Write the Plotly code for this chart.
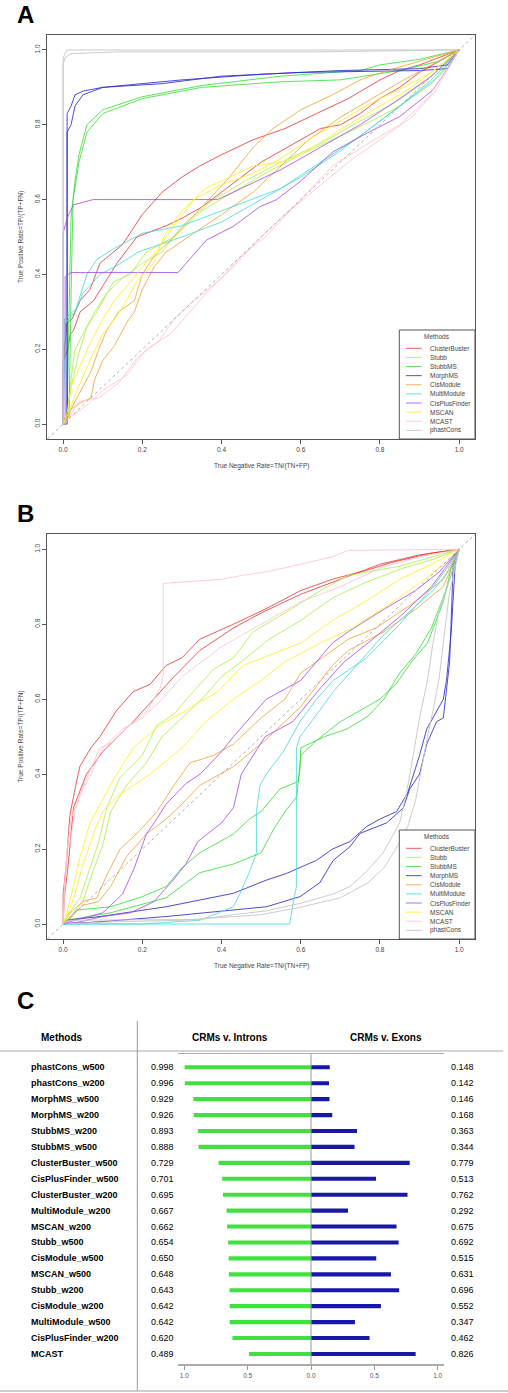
import plotly.graph_objects as go

W, H = 508, 1393
def fx(p): return p / W
def fy(p): return 1 - p / H

methods = ["ClusterBuster", "Stubb", "StubbMS", "MorphMS", "CisModule",
           "MultiModule", "CisPlusFinder", "MSCAN", "MCAST", "phastCons"]
colors = ["rgba(232,50,50,0.8)", "rgba(175,238,80,0.85)", "rgba(50,220,50,0.8)",
          "rgba(45,45,200,0.85)", "rgba(245,165,60,0.85)", "rgba(70,215,215,0.8)",
          "rgba(165,70,230,0.8)", "rgba(255,240,50,0.9)", "rgba(255,195,205,0.85)",
          "rgba(200,200,200,0.95)"]

# ---------------- Panel A ROC curves (two windows per method) ----------------
A_ClusterBuster_1 = [(0,0),(0,0.15),(0.003,0.2),(0.01,0.27),(0.022,0.28),(0.043,0.33),(0.068,0.36),(0.093,0.43),(0.15,0.48),(0.2,0.56),(0.25,0.62),(0.3,0.66),(0.345,0.69),(0.4,0.72),(0.48,0.76),(0.56,0.79),(0.64,0.83),(0.72,0.87),(0.8,0.92),(0.85,0.945),(0.9,0.96),(0.95,0.98),(1,1)]
A_ClusterBuster_2 = [(0,0),(0,0.17),(0.012,0.2),(0.018,0.24),(0.026,0.25),(0.043,0.3),(0.077,0.33),(0.136,0.43),(0.186,0.5),(0.26,0.53),(0.3,0.55),(0.35,0.58),(0.4,0.62),(0.45,0.66),(0.5,0.7),(0.55,0.73),(0.6,0.76),(0.65,0.79),(0.7,0.8),(0.75,0.83),(0.8,0.87),(0.85,0.9),(0.9,0.94),(0.95,0.97),(1,1)]
A_Stubb_1 = [(0,0),(0.01,0.02),(0.02,0.1),(0.04,0.19),(0.06,0.26),(0.085,0.3),(0.127,0.38),(0.17,0.4),(0.21,0.46),(0.28,0.5),(0.35,0.57),(0.43,0.62),(0.51,0.67),(0.6,0.72),(0.68,0.76),(0.76,0.8),(0.85,0.85),(0.93,0.91),(1,1)]
A_Stubb_2 = [(0,0),(0.01,0.03),(0.02,0.12),(0.03,0.2),(0.05,0.24),(0.08,0.3),(0.11,0.35),(0.15,0.39),(0.2,0.43),(0.25,0.46),(0.3,0.53),(0.38,0.6),(0.46,0.65),(0.55,0.7),(0.65,0.75),(0.75,0.81),(0.84,0.86),(0.92,0.92),(1,1)]
A_StubbMS_1 = [(0,0),(0.01,0.02),(0.015,0.3),(0.02,0.55),(0.03,0.65),(0.04,0.72),(0.06,0.8),(0.1,0.84),(0.2,0.875),(0.35,0.905),(0.55,0.93),(0.75,0.945),(0.8,0.96),(0.9,0.975),(1,1)]
A_StubbMS_2 = [(0,0),(0.015,0.02),(0.02,0.35),(0.025,0.6),(0.04,0.7),(0.06,0.78),(0.1,0.83),(0.2,0.87),(0.35,0.9),(0.55,0.915),(0.7,0.92),(0.85,0.945),(0.95,0.97),(1,1)]
A_MorphMS_1 = [(0,0),(0.01,0.02),(0.01,0.83),(0.02,0.85),(0.03,0.88),(0.05,0.89),(0.1,0.9),(0.3,0.92),(0.5,0.935),(0.7,0.945),(0.9,0.95),(0.97,0.96),(1,1)]
A_MorphMS_2 = [(0,0),(0.01,0),(0.01,0.78),(0.02,0.8),(0.03,0.85),(0.05,0.88),(0.1,0.9),(0.25,0.91),(0.4,0.93),(0.6,0.94),(0.9,0.945),(0.97,0.95),(1,1)]
A_CisModule_1 = [(0,0),(0.01,0.01),(0.02,0.04),(0.05,0.06),(0.07,0.07),(0.08,0.12),(0.1,0.17),(0.13,0.21),(0.16,0.27),(0.18,0.3),(0.2,0.36),(0.23,0.42),(0.26,0.46),(0.33,0.51),(0.4,0.56),(0.48,0.62),(0.56,0.7),(0.62,0.76),(0.7,0.82),(0.78,0.87),(0.86,0.92),(0.93,0.96),(1,1)]
A_CisModule_2 = [(0,0),(0.01,0.02),(0.03,0.06),(0.05,0.1),(0.07,0.14),(0.09,0.2),(0.11,0.25),(0.14,0.3),(0.18,0.33),(0.2,0.4),(0.23,0.45),(0.28,0.5),(0.35,0.58),(0.42,0.66),(0.48,0.74),(0.53,0.79),(0.6,0.84),(0.68,0.88),(0.75,0.92),(0.82,0.945),(0.9,0.97),(1,1)]
A_MultiModule_1 = [(0,0),(0,0.15),(0.003,0.28),(0.035,0.31),(0.05,0.35),(0.093,0.4),(0.13,0.42),(0.19,0.46),(0.3,0.5),(0.4,0.54),(0.5,0.6),(0.6,0.66),(0.7,0.73),(0.8,0.81),(0.9,0.89),(0.95,0.93),(1,1)]
A_MultiModule_2 = [(0,0),(0.003,0.12),(0.006,0.27),(0.03,0.3),(0.06,0.4),(0.085,0.44),(0.13,0.47),(0.2,0.51),(0.3,0.53),(0.45,0.59),(0.55,0.63),(0.65,0.7),(0.75,0.77),(0.85,0.85),(0.93,0.92),(1,1)]
A_CisPlusFinder_1 = [(0,0),(0,0.51),(0.01,0.55),(0.026,0.586),(0.076,0.6),(0.39,0.6),(0.45,0.63),(0.55,0.68),(0.65,0.74),(0.75,0.8),(0.85,0.87),(0.93,0.93),(1,1)]
A_CisPlusFinder_2 = [(0,0),(0.005,0.02),(0.005,0.394),(0.02,0.405),(0.29,0.405),(0.303,0.421),(0.362,0.492),(0.429,0.528),(0.497,0.581),(0.539,0.6),(0.598,0.648),(0.682,0.728),(0.766,0.777),(0.85,0.822),(0.934,0.893),(0.97,0.95),(1,1)]
A_MSCAN_1 = [(0,0),(0.01,0.02),(0.035,0.09),(0.068,0.17),(0.1,0.24),(0.144,0.3),(0.186,0.38),(0.228,0.43),(0.254,0.5),(0.3,0.57),(0.36,0.63),(0.42,0.66),(0.48,0.69),(0.55,0.7),(0.6,0.72),(0.66,0.76),(0.72,0.8),(0.8,0.85),(0.88,0.9),(0.94,0.95),(1,1)]
A_MSCAN_2 = [(0,0),(0.01,0.03),(0.02,0.1),(0.04,0.15),(0.07,0.22),(0.1,0.28),(0.13,0.33),(0.17,0.38),(0.2,0.42),(0.24,0.47),(0.28,0.53),(0.33,0.6),(0.4,0.64),(0.48,0.67),(0.55,0.71),(0.62,0.76),(0.7,0.81),(0.78,0.86),(0.86,0.9),(0.93,0.94),(1,1)]
A_MCAST_1 = [(0,0),(0.01,0.01),(0.04,0.06),(0.09,0.07),(0.14,0.11),(0.19,0.18),(0.24,0.22),(0.28,0.28),(0.33,0.33),(0.4,0.39),(0.45,0.45),(0.51,0.5),(0.6,0.6),(0.68,0.69),(0.77,0.75),(0.85,0.8),(0.92,0.87),(0.97,0.95),(1,1)]
A_MCAST_2 = [(0,0),(0.02,0.02),(0.06,0.05),(0.1,0.09),(0.16,0.13),(0.21,0.2),(0.27,0.24),(0.32,0.3),(0.37,0.36),(0.43,0.42),(0.49,0.49),(0.56,0.56),(0.64,0.63),(0.72,0.7),(0.8,0.76),(0.88,0.82),(0.94,0.89),(1,1)]
A_phastCons_1 = [(0,0),(0,0.96),(0.005,0.98),(0.02,0.99),(0.14,0.995),(0.64,0.995),(1,1)]
A_phastCons_2 = [(0,0),(0,0.98),(0.01,1.0),(1,1)]

# ---------------- Panel B ROC curves ----------------
B_ClusterBuster_1 = [(0,0),(0,0.08),(0.008,0.16),(0.017,0.29),(0.03,0.36),(0.042,0.42),(0.07,0.47),(0.093,0.5),(0.135,0.57),(0.177,0.62),(0.22,0.64),(0.26,0.69),(0.3,0.71),(0.345,0.76),(0.43,0.8),(0.51,0.84),(0.6,0.89),(0.68,0.92),(0.77,0.945),(0.83,0.965),(0.93,0.99),(1,1)]
B_ClusterBuster_2 = [(0,0),(0.003,0.07),(0.012,0.15),(0.026,0.31),(0.059,0.4),(0.1,0.46),(0.177,0.54),(0.22,0.59),(0.28,0.66),(0.345,0.73),(0.43,0.79),(0.5,0.83),(0.6,0.88),(0.7,0.92),(0.8,0.96),(0.9,0.985),(1,1)]
B_Stubb_1 = [(0,0),(0.009,0.02),(0.043,0.07),(0.068,0.15),(0.09,0.22),(0.11,0.31),(0.143,0.39),(0.2,0.45),(0.236,0.53),(0.28,0.56),(0.32,0.61),(0.38,0.68),(0.43,0.71),(0.48,0.78),(0.56,0.83),(0.65,0.89),(0.72,0.93),(0.85,0.955),(0.93,0.98),(1,1)]
B_Stubb_2 = [(0,0),(0.01,0.01),(0.05,0.06),(0.075,0.14),(0.1,0.21),(0.12,0.3),(0.16,0.37),(0.21,0.43),(0.25,0.5),(0.3,0.55),(0.35,0.6),(0.4,0.66),(0.45,0.7),(0.52,0.76),(0.6,0.81),(0.68,0.87),(0.76,0.91),(0.86,0.95),(0.94,0.975),(1,1)]
B_StubbMS_1 = [(0,0),(0.008,0),(0.034,0.037),(0.12,0.046),(0.2,0.073),(0.26,0.1),(0.3,0.15),(0.345,0.19),(0.43,0.24),(0.47,0.28),(0.5,0.3),(0.547,0.36),(0.593,0.38),(0.598,0.41),(0.6,0.47),(0.66,0.5),(0.716,0.52),(0.77,0.555),(0.81,0.6),(0.85,0.67),(0.89,0.72),(0.93,0.79),(0.97,0.9),(1,1)]
B_StubbMS_2 = [(0,0),(0.01,0.01),(0.12,0.03),(0.26,0.07),(0.345,0.137),(0.43,0.16),(0.5,0.19),(0.53,0.25),(0.56,0.3),(0.59,0.34),(0.6,0.45),(0.64,0.49),(0.7,0.54),(0.75,0.57),(0.8,0.6),(0.84,0.64),(0.88,0.7),(0.92,0.75),(0.96,0.86),(0.98,0.95),(1,1)]
B_MorphMS_1 = [(0,0),(0.008,0.01),(0.093,0.02),(0.177,0.033),(0.26,0.046),(0.345,0.064),(0.43,0.082),(0.513,0.117),(0.564,0.135),(0.64,0.17),(0.68,0.2),(0.724,0.22),(0.766,0.26),(0.8,0.28),(0.842,0.3),(0.87,0.35),(0.9,0.45),(0.918,0.52),(0.934,0.55),(0.96,0.6),(0.968,0.65),(0.98,0.78),(0.99,0.96),(1,1)]
B_MorphMS_2 = [(0,0),(0.093,0.006),(0.26,0.02),(0.43,0.037),(0.513,0.046),(0.598,0.073),(0.648,0.11),(0.682,0.17),(0.724,0.206),(0.75,0.242),(0.817,0.27),(0.859,0.31),(0.875,0.36),(0.9,0.4),(0.918,0.48),(0.943,0.54),(0.96,0.55),(0.976,0.7),(0.985,0.96),(1,1)]
B_CisModule_1 = [(0,0),(0.018,0.03),(0.05,0.06),(0.085,0.07),(0.11,0.13),(0.144,0.2),(0.194,0.25),(0.237,0.3),(0.28,0.37),(0.32,0.43),(0.38,0.45),(0.43,0.48),(0.5,0.55),(0.56,0.6),(0.6,0.67),(0.665,0.72),(0.72,0.76),(0.79,0.79),(0.875,0.85),(0.96,0.92),(1,1)]
B_CisModule_2 = [(0,0),(0.02,0.02),(0.05,0.05),(0.09,0.06),(0.12,0.1),(0.16,0.18),(0.21,0.24),(0.26,0.28),(0.3,0.32),(0.345,0.37),(0.43,0.42),(0.51,0.49),(0.6,0.58),(0.68,0.69),(0.72,0.73),(0.81,0.78),(0.89,0.84),(0.96,0.9),(1,1)]
B_MultiModule_1 = [(0,0),(0.572,0),(0.58,0.05),(0.589,0.1),(0.589,0.47),(0.598,0.5),(0.648,0.57),(0.682,0.62),(0.724,0.67),(0.766,0.72),(0.808,0.77),(0.85,0.81),(0.892,0.85),(0.934,0.89),(0.976,0.945),(1,1)]
B_MultiModule_2 = [(0,0),(0.2,0),(0.345,0.01),(0.43,0.046),(0.446,0.08),(0.471,0.14),(0.488,0.19),(0.488,0.3),(0.497,0.37),(0.513,0.4),(0.556,0.46),(0.598,0.54),(0.64,0.6),(0.682,0.65),(0.766,0.71),(0.85,0.8),(0.934,0.9),(0.97,0.95),(1,1)]
B_CisPlusFinder_1 = [(0,0),(0.03,0.01),(0.1,0.03),(0.15,0.08),(0.18,0.15),(0.21,0.24),(0.23,0.27),(0.26,0.32),(0.31,0.375),(0.346,0.4),(0.4,0.46),(0.43,0.5),(0.513,0.6),(0.6,0.65),(0.68,0.75),(0.72,0.78),(0.81,0.84),(0.89,0.89),(0.95,0.94),(1,1)]
B_CisPlusFinder_2 = [(0,0),(0.043,0.006),(0.1,0.02),(0.17,0.03),(0.23,0.06),(0.28,0.12),(0.31,0.16),(0.34,0.22),(0.4,0.27),(0.43,0.31),(0.45,0.4),(0.51,0.5),(0.58,0.54),(0.65,0.63),(0.71,0.7),(0.77,0.75),(0.85,0.82),(0.93,0.9),(1,1)]
B_MSCAN_1 = [(0,0),(0.009,0.03),(0.026,0.1),(0.043,0.18),(0.068,0.27),(0.1,0.33),(0.13,0.39),(0.177,0.47),(0.244,0.53),(0.31,0.57),(0.39,0.62),(0.455,0.69),(0.53,0.72),(0.6,0.75),(0.68,0.81),(0.77,0.865),(0.85,0.92),(0.93,0.96),(1,1)]
B_MSCAN_2 = [(0,0),(0.01,0.02),(0.03,0.08),(0.05,0.16),(0.08,0.25),(0.1,0.3),(0.135,0.34),(0.22,0.4),(0.3,0.47),(0.36,0.54),(0.43,0.6),(0.5,0.65),(0.56,0.7),(0.65,0.75),(0.73,0.79),(0.82,0.85),(0.9,0.91),(0.96,0.96),(1,1)]
B_MCAST_1 = [(0,0),(0.003,0.1),(0.01,0.2),(0.018,0.22),(0.03,0.3),(0.05,0.366),(0.093,0.47),(0.127,0.487),(0.169,0.531),(0.211,0.567),(0.245,0.629),(0.253,0.665),(0.253,0.909),(0.4,0.92),(0.45,0.93),(0.514,0.94),(0.6,0.96),(0.68,0.98),(0.72,0.997),(1,1)]
B_MCAST_2 = [(0,0),(0.005,0.1),(0.01,0.2),(0.02,0.28),(0.04,0.34),(0.07,0.4),(0.1,0.47),(0.15,0.52),(0.2,0.55),(0.25,0.6),(0.3,0.66),(0.35,0.7),(0.4,0.74),(0.5,0.8),(0.6,0.86),(0.7,0.9),(0.8,0.95),(0.9,0.98),(1,1)]
B_phastCons_1 = [(0,0),(0.008,0.01),(0.345,0.012),(0.43,0.025),(0.513,0.035),(0.598,0.055),(0.682,0.08),(0.724,0.1),(0.766,0.14),(0.808,0.19),(0.85,0.27),(0.867,0.35),(0.884,0.45),(0.9,0.55),(0.92,0.65),(0.934,0.75),(0.95,0.84),(0.97,0.9),(1,1)]
B_phastCons_2 = [(0,0),(0.1,0.005),(0.3,0.01),(0.5,0.025),(0.6,0.045),(0.7,0.07),(0.77,0.11),(0.81,0.15),(0.84,0.2),(0.87,0.26),(0.89,0.33),(0.905,0.42),(0.92,0.5),(0.934,0.57),(0.95,0.66),(0.96,0.75),(0.975,0.88),(1,1)]

panelA = [(A_ClusterBuster_1, A_ClusterBuster_2), (A_Stubb_1, A_Stubb_2), (A_StubbMS_1, A_StubbMS_2),
          (A_MorphMS_1, A_MorphMS_2), (A_CisModule_1, A_CisModule_2), (A_MultiModule_1, A_MultiModule_2),
          (A_CisPlusFinder_1, A_CisPlusFinder_2), (A_MSCAN_1, A_MSCAN_2), (A_MCAST_1, A_MCAST_2),
          (A_phastCons_1, A_phastCons_2)]
panelB = [(B_ClusterBuster_1, B_ClusterBuster_2), (B_Stubb_1, B_Stubb_2), (B_StubbMS_1, B_StubbMS_2),
          (B_MorphMS_1, B_MorphMS_2), (B_CisModule_1, B_CisModule_2), (B_MultiModule_1, B_MultiModule_2),
          (B_CisPlusFinder_1, B_CisPlusFinder_2), (B_MSCAN_1, B_MSCAN_2), (B_MCAST_1, B_MCAST_2),
          (B_phastCons_1, B_phastCons_2)]

# ---------------- Panel C table ----------------
c_methods = ["phastCons_w500", "phastCons_w200", "MorphMS_w500", "MorphMS_w200", "StubbMS_w200",
             "StubbMS_w500", "ClusterBuster_w500", "CisPlusFinder_w500", "ClusterBuster_w200",
             "MultiModule_w200", "MSCAN_w200", "Stubb_w500", "CisModule_w500", "MSCAN_w500",
             "Stubb_w200", "CisModule_w200", "MultiModule_w500", "CisPlusFinder_w200", "MCAST"]
c_introns = [0.998, 0.996, 0.929, 0.926, 0.893, 0.888, 0.729, 0.701, 0.695, 0.667,
             0.662, 0.654, 0.650, 0.648, 0.643, 0.642, 0.642, 0.620, 0.489]
c_exons = [0.148, 0.142, 0.146, 0.168, 0.363, 0.344, 0.779, 0.513, 0.762, 0.292,
           0.675, 0.692, 0.515, 0.631, 0.696, 0.552, 0.347, 0.462, 0.826]
c_ticks = [-1.0, -0.5, 0.0, 0.5, 1.0]
c_ticklabels = ["1.0", "0.5", "0.0", "0.5", "1.0"]
roc_ticks = [0.0, 0.2, 0.4, 0.6, 0.8, 1.0]

FONT = "Liberation Sans, Arial, sans-serif"
fig = go.Figure()

for panel, (xa, ya) in ((panelA, ("x", "y")), (panelB, ("x2", "y2"))):
    for i, pair in enumerate(panel):
        for curve in pair:
            fig.add_trace(go.Scatter(
                x=[p[0] for p in curve], y=[p[1] for p in curve], mode="lines",
                line=dict(color=colors[i], width=1), xaxis=xa, yaxis=ya,
                showlegend=False, hoverinfo="skip"))

rows = list(range(len(c_methods)))
fig.add_trace(go.Bar(y=rows, x=[-v for v in c_introns], orientation="h", width=0.26,
                     marker=dict(color="#3fe03f", line=dict(width=0)),
                     xaxis="x3", yaxis="y3", showlegend=False, hoverinfo="skip"))
fig.add_trace(go.Bar(y=rows, x=c_exons, orientation="h", width=0.26,
                     marker=dict(color="#1717a8", line=dict(width=0)),
                     xaxis="x3", yaxis="y3", showlegend=False, hoverinfo="skip"))

tickfont = dict(family=FONT, size=6.5, color="#444")
roc_x = dict(range=[-0.04, 1.04], showline=True, linecolor="#555", linewidth=1, mirror=True,
             ticks="outside", ticklen=4, tickcolor="#555", tickvals=roc_ticks,
             tickformat=".1f", tickfont=tickfont, showgrid=False, zeroline=False, fixedrange=True)
roc_y = dict(roc_x)
roc_y["tickangle"] = -90

xd = [fx(47.3), fx(475)]
fig.update_layout(
    width=W, height=H, margin=dict(l=0, r=0, t=0, b=0),
    paper_bgcolor="white", plot_bgcolor="white", barmode="overlay",
    xaxis=dict(roc_x, domain=xd, anchor="y"),
    yaxis=dict(roc_y, domain=[fy(439), fy(35)], anchor="x"),
    xaxis2=dict(roc_x, domain=xd, anchor="y2"),
    yaxis2=dict(roc_y, domain=[fy(939), fy(534.3)], anchor="x2"),
    xaxis3=dict(domain=[fx(178), fx(444)], range=[-1.05, 1.05], anchor="y3",
                showline=True, mirror=True, linecolor="#aaa", linewidth=1.5,
                ticks="outside", ticklen=4, tickcolor="#999", tickvals=c_ticks,
                ticktext=c_ticklabels, tickfont=dict(family=FONT, size=6.5, color="#555"),
                showgrid=False, zeroline=False, fixedrange=True),
    yaxis3=dict(domain=[fy(1364.3), fy(1054.3)], range=[18.65, -0.816], anchor="x3",
                visible=False, fixedrange=True),
)

shapes = []
ann = []
# diagonal reference lines and legends for ROC panels
for (xa, ya, top, bottom) in (("x", "y", 330, 439), ("x2", "y2", 830, 939)):
    shapes.append(dict(type="line", xref=xa + " domain", yref=ya + " domain", x0=0, y0=0, x1=1, y1=1,
                       line=dict(color="#999", width=0.8, dash="dot"), layer="above"))
    shapes.append(dict(type="rect", xref="paper", yref="paper", x0=fx(399.3), x1=fx(475),
                       y0=fy(bottom), y1=fy(top), fillcolor="white",
                       line=dict(color="#555", width=1), layer="above"))
    ann.append(dict(text="Methods", xref="paper", yref="paper", x=fx(437), y=fy(top + 6.7),
                    showarrow=False, xanchor="center", yanchor="middle",
                    font=dict(family=FONT, size=6.5, color="#444")))
    for i, m in enumerate(methods):
        yy = top + 18.3 + i * 9.12
        shapes.append(dict(type="line", xref="paper", yref="paper", x0=fx(406), x1=fx(421.7),
                           y0=fy(yy), y1=fy(yy), line=dict(color=colors[i], width=1), layer="above"))
        ann.append(dict(text=m, xref="paper", yref="paper", x=fx(427.5), y=fy(yy),
                        showarrow=False, xanchor="left", yanchor="middle",
                        font=dict(family=FONT, size=6.5, color="#444")))

# axis titles
for ycent, xtitle_y in ((237, 466), (736.7, 965.7)):
    ann.append(dict(text="True Negative Rate=TN/(TN+FP)", xref="paper", yref="paper",
                    x=fx(261.3), y=fy(xtitle_y), showarrow=False, xanchor="center", yanchor="middle",
                    font=dict(family=FONT, size=6.5, color="#444")))
    ann.append(dict(text="True Positive Rate=TP/(TP+FN)", xref="paper", yref="paper",
                    x=fx(21), y=fy(ycent), showarrow=False, textangle=-90,
                    xanchor="center", yanchor="middle",
                    font=dict(family=FONT, size=6.5, color="#444")))

# panel letters
for letter, yy in (("A", 15), ("B", 513), ("C", 1000)):
    ann.append(dict(text="<b>%s</b>" % letter, xref="paper", yref="paper", x=fx(15), y=fy(yy),
                    showarrow=False, xanchor="left", yanchor="middle",
                    font=dict(family=FONT, size=24, color="black")))

# Panel C table decorations
shapes.append(dict(type="line", xref="paper", yref="paper", x0=0, x1=fx(503), y0=fy(1051), y1=fy(1051),
                   line=dict(color="#aaa", width=1.2)))
shapes.append(dict(type="line", xref="paper", yref="paper", x0=fx(137.3), x1=fx(137.3),
                   y0=fy(1391), y1=fy(1021), line=dict(color="#999", width=1)))
shapes.append(dict(type="line", xref="paper", yref="paper", x0=0, x1=1, y0=fy(1391), y1=fy(1391),
                   line=dict(color="#bbb", width=1.5)))
shapes.append(dict(type="line", xref="x3", yref="y3 domain", x0=0, x1=0, y0=0, y1=1,
                   line=dict(color="#999", width=1), layer="above"))

hdr = dict(family=FONT, size=10, color="black")
ann.append(dict(text="<b>Methods</b>", xref="paper", yref="paper", x=fx(61.7), y=fy(1037.7),
                showarrow=False, xanchor="center", yanchor="middle", font=hdr))
ann.append(dict(text="<b>CRMs v. Introns</b>", xref="paper", yref="paper", x=fx(230), y=fy(1037.7),
                showarrow=False, xanchor="center", yanchor="middle", font=hdr))
ann.append(dict(text="<b>CRMs v. Exons</b>", xref="paper", yref="paper", x=fx(386), y=fy(1037.7),
                showarrow=False, xanchor="center", yanchor="middle", font=hdr))
rowfont = dict(family=FONT, size=9, color="black")
for i, m in enumerate(c_methods):
    ann.append(dict(text="<b>%s</b>" % m, xref="paper", yref="y3", x=fx(28.5), y=i,
                    showarrow=False, xanchor="left", yanchor="middle", font=rowfont))
    ann.append(dict(text="%.3f" % c_introns[i], xref="paper", yref="y3", x=fx(148.5), y=i,
                    showarrow=False, xanchor="left", yanchor="middle", font=rowfont))
    ann.append(dict(text="%.3f" % c_exons[i], xref="paper", yref="y3", x=fx(449), y=i,
                    showarrow=False, xanchor="left", yanchor="middle", font=rowfont))

fig.update_layout(shapes=shapes, annotations=ann)
fig.write_html("out.html", config={"displayModeBar": False, "staticPlot": True},
               post_script="document.body.style.margin='0';document.body.style.overflow='hidden';")
